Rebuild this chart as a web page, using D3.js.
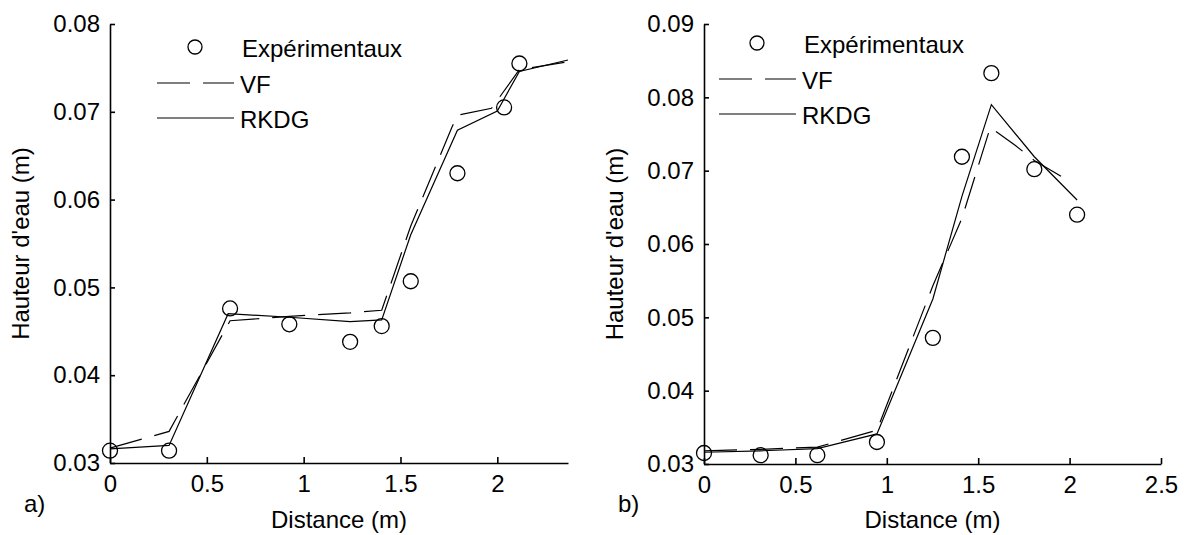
<!DOCTYPE html>
<html>
<head>
<meta charset="utf-8">
<script src="https://cdn.jsdelivr.net/npm/d3@7/dist/d3.min.js"></script>
<style>
  body { margin: 0; background: #fff; }
  text { font-family: "Liberation Sans", Arial, sans-serif; font-size: 24px; fill: #000; }
</style>
</head>
<body>
<div id="chart"></div>
<script>
// panel a) - measured (circles) and computed water heights
var distExpA = [0, 0.305, 0.62, 0.926, 1.24, 1.403, 1.553, 1.794, 2.035, 2.114];
var hExpA = [0.0314, 0.0314, 0.0476, 0.0458, 0.0438, 0.0456, 0.0507, 0.0630, 0.0705, 0.0755];
var distVfA = [0, 0.305, 0.62, 0.926, 1.24, 1.403, 1.553, 1.765, 1.794, 1.97, 2.114, 2.365];
var hVfA = [0.0317, 0.0336, 0.0462, 0.0467, 0.0471, 0.0474, 0.0570, 0.0682, 0.0696, 0.0704, 0.0748, 0.0757];
var distRkdgA = [0, 0.305, 0.61, 0.926, 1.24, 1.403, 1.553, 1.794, 2.0, 2.114, 2.365];
var hRkdgA = [0.0316, 0.0320, 0.0470, 0.0466, 0.0461, 0.0463, 0.0560, 0.0679, 0.0701, 0.0746, 0.0759];

// panel b)
var distExpB = [0, 0.31, 0.62, 0.946, 1.252, 1.411, 1.572, 1.807, 2.041];
var hExpB = [0.0315, 0.0312, 0.0312, 0.0330, 0.0472, 0.0719, 0.0833, 0.0702, 0.0640];
var distVfB = [0, 0.31, 0.62, 0.946, 1.252, 1.411, 1.566, 1.70, 1.807, 1.97];
var hVfB = [0.0318, 0.0320, 0.0323, 0.0346, 0.0543, 0.0635, 0.0759, 0.0735, 0.0714, 0.0690];
var distRkdgB = [0, 0.31, 0.62, 0.946, 1.252, 1.411, 1.572, 1.807, 2.041];
var hRkdgB = [0.0316, 0.0318, 0.0321, 0.0341, 0.0525, 0.0665, 0.0790, 0.0719, 0.0660];

var xTicksA = [0, 0.5, 1, 1.5, 2];
var yTicksA = [0.03, 0.04, 0.05, 0.06, 0.07, 0.08];
var xTicksB = [0, 0.5, 1, 1.5, 2, 2.5];
var yTicksB = [0.03, 0.04, 0.05, 0.06, 0.07, 0.08, 0.09];

var legendLabels = ["Expérimentaux", "VF", "RKDG"];

var width = 1184, height = 535;

var svg = d3.select("#chart")
    .append("svg")
    .attr("width", width)
    .attr("height", height);

function zip(xs, ys) {
    return xs.map(function (d, i) { return { x: d, y: ys[i] }; });
}

var panels = [
    {
        tag: "a)", left: 110, right: 568, top: 24, bottom: 463,
        xDomain: [0, 2.365], yDomain: [0.03, 0.08],
        xTicks: xTicksA, yTicks: yTicksA,
        exp: zip(distExpA, hExpA), vf: zip(distVfA, hVfA), rkdg: zip(distRkdgA, hRkdgA),
        legendX: 157, legendY: 47
    },
    {
        tag: "b)", left: 704, right: 1161, top: 24, bottom: 464,
        xDomain: [0, 2.5], yDomain: [0.03, 0.09],
        xTicks: xTicksB, yTicks: yTicksB,
        exp: zip(distExpB, hExpB), vf: zip(distVfB, hVfB), rkdg: zip(distRkdgB, hRkdgB),
        legendX: 719, legendY: 43
    }
];

panels.forEach(drawPanel);

function drawPanel(p) {
    var x = d3.scaleLinear().domain(p.xDomain).range([p.left, p.right]);
    var y = d3.scaleLinear().domain(p.yDomain).range([p.bottom, p.top]);

    var line = d3.line()
        .x(function (d) { return x(d.x); })
        .y(function (d) { return y(d.y); });

    // X axis, ticks pointing inward
    var gx = svg.append("g")
        .attr("transform", "translate(0," + p.bottom + ")")
        .call(d3.axisBottom(x)
            .tickValues(p.xTicks)
            .tickSizeInner(-6)
            .tickSizeOuter(0)
            .tickPadding(12)
            .tickFormat(d3.format("")));

    // Y axis
    var gy = svg.append("g")
        .attr("transform", "translate(" + p.left + ",0)")
        .call(d3.axisLeft(y)
            .tickValues(p.yTicks)
            .tickSizeInner(-5)
            .tickSizeOuter(0)
            .tickPadding(10)
            .tickFormat(d3.format(".2f")));

    [gx, gy].forEach(function (g) {
        g.selectAll("path, line").attr("stroke", "#000").attr("stroke-width", 1.6);
        g.selectAll("text")
            .attr("fill", "#000")
            .style("font-family", "'Liberation Sans', Arial, sans-serif")
            .style("font-size", "24px");
    });

    // axis labels
    svg.append("text")
        .attr("text-anchor", "middle")
        .attr("x", (p.left + p.right) / 2)
        .attr("y", 528)
        .text("Distance (m)");

    svg.append("text")
        .attr("text-anchor", "middle")
        .attr("transform", "translate(" + (p.left - 81) + "," + ((p.top + p.bottom) / 2) + ") rotate(-90)")
        .text("Hauteur d'eau (m)");

    svg.append("text")
        .attr("x", p.left - 86)
        .attr("y", 512)
        .text(p.tag);

    // computed solutions
    svg.append("path")
        .datum(p.vf)
        .attr("fill", "none")
        .attr("stroke", "#000")
        .attr("stroke-width", 1.2)
        .attr("stroke-dasharray", "33,13")
        .attr("d", line);

    svg.append("path")
        .datum(p.rkdg)
        .attr("fill", "none")
        .attr("stroke", "#000")
        .attr("stroke-width", 1.2)
        .attr("d", line);

    // measurements
    svg.selectAll(null)
        .data(p.exp)
        .enter()
        .append("circle")
        .attr("cx", function (d) { return x(d.x); })
        .attr("cy", function (d) { return y(d.y); })
        .attr("r", 7.5)
        .attr("fill", "none")
        .attr("stroke", "#000")
        .attr("stroke-width", 1.3);

    // legend
    var lg = svg.append("g")
        .attr("transform", "translate(" + p.legendX + "," + p.legendY + ")");

    lg.append("circle")
        .attr("cx", 38).attr("cy", 0).attr("r", 7)
        .attr("fill", "none").attr("stroke", "#000").attr("stroke-width", 1.3);

    lg.append("line")
        .attr("x1", 0).attr("x2", 77).attr("y1", 36).attr("y2", 36)
        .attr("stroke", "#000").attr("stroke-width", 1.2)
        .attr("stroke-dasharray", "33,13");

    lg.append("line")
        .attr("x1", 0).attr("x2", 77).attr("y1", 71).attr("y2", 71)
        .attr("stroke", "#000").attr("stroke-width", 1.2);

    lg.selectAll("text.leg")
        .data(legendLabels)
        .enter()
        .append("text")
        .attr("class", "leg")
        .attr("x", function (d, i) { return i == 0 ? 85 : 83; })
        .attr("y", function (d, i) { return [0, 36, 71][i] + 10; })
        .text(function (d) { return d; });
}
</script>
</body>
</html>
